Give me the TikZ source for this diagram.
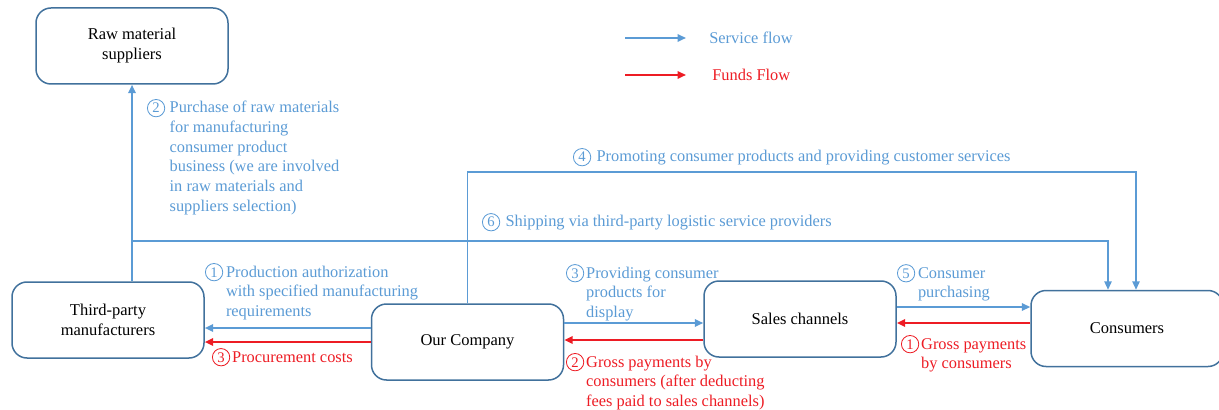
\documentclass[tikz,border=0pt]{standalone}
\usepackage{fontspec}
\setmainfont{Liberation Serif}
\usetikzlibrary{arrows.meta,positioning,calc}
\definecolor{svcblue}{RGB}{91,155,213}
\definecolor{boxline}{RGB}{65,113,156}
\definecolor{fundred}{RGB}{237,28,36}
\newcommand{\stack}[1]{\begin{tabular}[t]{@{}l@{}}#1\end{tabular}}
\tikzset{
  party/.style={draw=boxline,line width=0.9pt,rounded corners=9pt,minimum width=115.2pt,minimum height=45.6pt,align=center,inner sep=0pt,font=\fontsize{9.9}{12}\selectfont},
  svc/.style={draw=svcblue,line width=1.3pt,-{Triangle[length=5pt,width=4.4pt]}},
  svcthin/.style={svc,line width=0.8pt},
  fund/.style={draw=fundred,line width=1.3pt,-{Triangle[length=5pt,width=4.4pt]}},
  numc/.style={circle,draw,line width=0.5pt,inner sep=0pt,minimum size=10.4pt,anchor=base west,font=\fontsize{8.8}{9}\selectfont},
  lbl/.style={inner sep=0pt,anchor=base west,font=\fontsize{9.83}{11.8}\selectfont}
}
\begin{document}
\begin{tikzpicture}[x=0.6pt,y=-0.6pt]
\useasboundingbox (0,0) rectangle (1219,410);

% parties
\node[party] (raw) at (132,46) {Raw material\\suppliers};
\node[party] (tpm) at (108,320) {Third-party\\manufacturers};
\node[party] (our) at (467.5,342) {Our Company};
\node[party] (sales) at (800,319) {Sales channels};
\node[party] (cons) at (1127,328.5) {Consumers};

% legend
\coordinate (svcA) at (625,38);
\coordinate (svcB) at (686,38);
\coordinate (fundA) at (625,75);
\coordinate (fundB) at (686,75);
\draw[svc] (svcA) -- (svcB);
\draw[fund] (fundA) -- (fundB);
\node[lbl,text=svcblue] (svctxt) at (709,44) {Service flow};
\node[lbl,text=fundred] (fundtxt) at (712,81) {Funds Flow};

% long service lines
\draw[svc] (raw.south |- tpm.north) -- (raw.south);
\coordinate (shipA) at (raw.south |- 0,241);
\coordinate (consL) at ([xshift=-11.4pt]cons.north);
\coordinate (consR) at ([xshift=5.4pt]cons.north);
\draw[svcthin] (shipA) -| (consL);
\draw[svcthin] (our.north) |- (consR |- 0,172) -- (consR);

% flows between neighbours
\coordinate (ourL1) at ([yshift=8.4pt]our.west);
\coordinate (ourR1) at ([yshift=11.4pt]our.east);
\coordinate (ourR2) at ([yshift=1.2pt]our.east);
\coordinate (salesR1) at ([yshift=7.2pt]sales.east);
\coordinate (salesR2) at ([yshift=-2.4pt]sales.east);
\draw[svc] (ourL1) -- (ourL1 -| tpm.east);
\draw[fund] (our.west) -- (our.west -| tpm.east);
\draw[svc] (ourR1) -- (ourR1 -| sales.west);
\draw[fund] (ourR2 -| sales.west) -- (ourR2);
\draw[svc] (salesR1) -- (salesR1 -| cons.west);
\draw[fund] (salesR2 -| cons.west) -- (salesR2);

% labels
\node[numc,svcblue] (c2) at (147,113) {2};
\node[lbl,text=svcblue] (t2) at ([xshift=2.5pt]c2.base east) {\stack{Purchase of raw materials\\for manufacturing\\consumer product\\business (we are involved\\in raw materials and\\suppliers selection)}};

\node[numc,svcblue] (c1) at (205,277) {1};
\node[lbl,text=svcblue] (t1) at ([xshift=1.5pt]c1.base east) {\stack{Production authorization\\with specified manufacturing\\requirements}};

\node[numc,fundred] (f3) at (212,362) {3};
\node[lbl,text=fundred] (g3) at ([xshift=1pt]f3.base east) {Procurement costs};

\node[numc,svcblue] (c4) at (573,162) {4};
\node[lbl,text=svcblue] (t4) at ([xshift=3pt]c4.base east) {Promoting consumer products and providing customer services};

\node[numc,svcblue] (c6) at (482,227) {6};
\node[lbl,text=svcblue] (t6) at ([xshift=3pt]c6.base east) {Shipping via third-party logistic service providers};

\node[numc,svcblue] (c3) at (566,278) {3};
\node[lbl,text=svcblue] (t3) at ([xshift=1pt]c3.base east) {\stack{Providing consumer\\products for\\display}};

\node[numc,fundred] (f2) at (566,367) {2};
\node[lbl,text=fundred] (g2) at ([xshift=1pt]f2.base east) {\stack{Gross payments by\\consumers (after deducting\\fees paid to sales channels)}};

\node[numc,svcblue] (c5) at (897,278) {5};
\node[lbl,text=svcblue] (t5) at ([xshift=1.5pt]c5.base east) {\stack{Consumer\\purchasing}};

\node[numc,fundred] (f1) at (901,349) {1};
\node[lbl,text=fundred] (g1) at ([xshift=1pt]f1.base east) {\stack{Gross payments\\by consumers}};
\end{tikzpicture}
\end{document}
